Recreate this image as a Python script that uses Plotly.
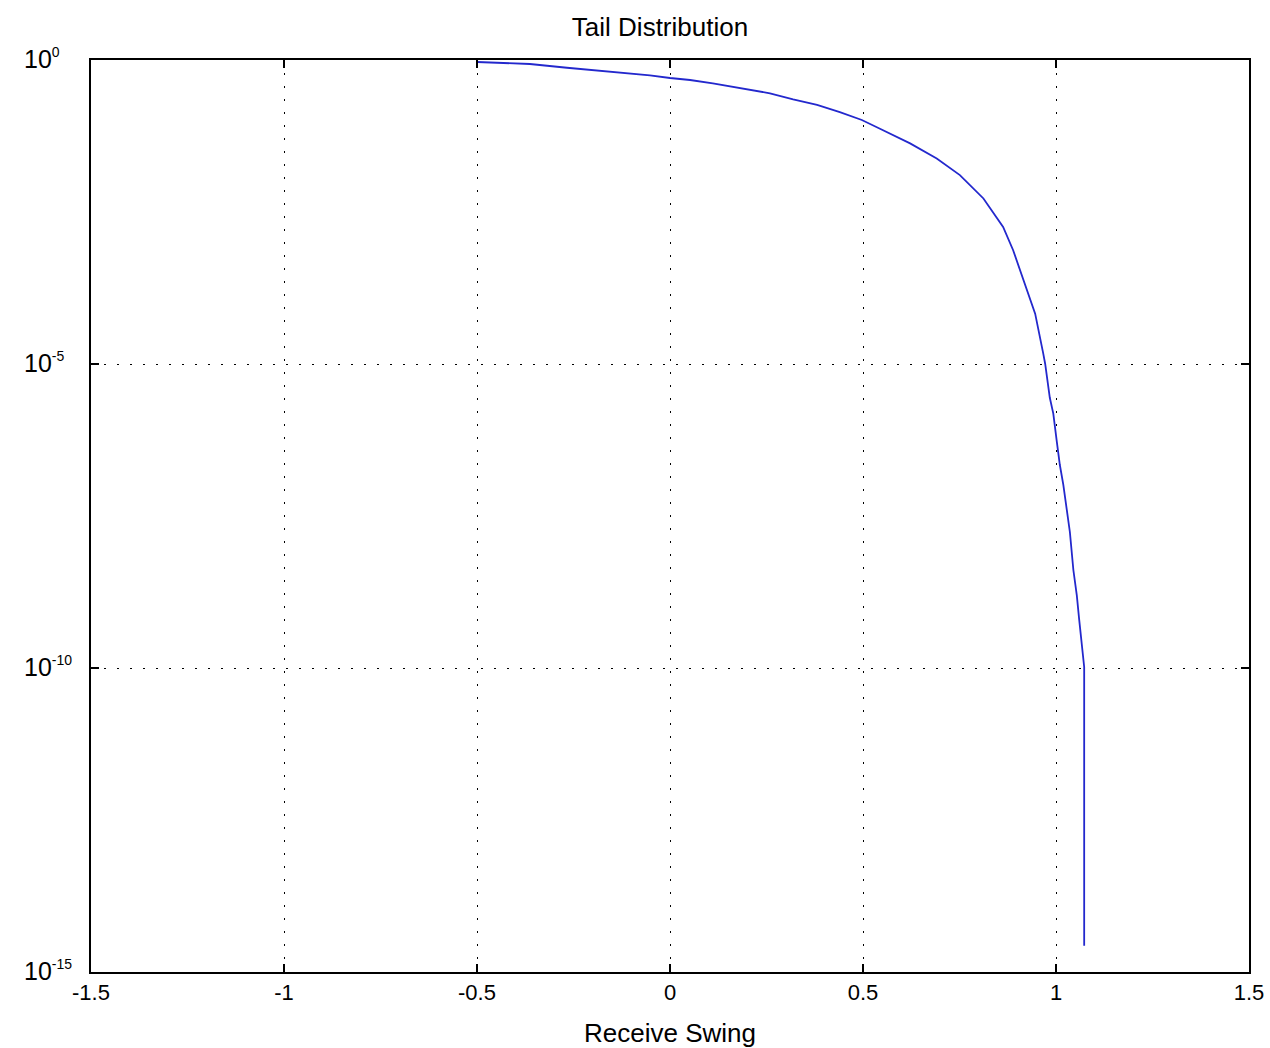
import plotly.graph_objects as go

# Receive swing (x) and tail probability (y)
swing = [-0.5, -0.363, -0.267, -0.181, -0.111, -0.052, 0.0, 0.052, 0.111, 0.181,
         0.259, 0.319, 0.381, 0.440, 0.497, 0.544, 0.622, 0.691, 0.751, 0.812,
         0.863, 0.889, 0.920, 0.946, 0.967, 0.972, 0.984, 0.993, 1.002, 1.010,
         1.019, 1.028, 1.036, 1.045, 1.054, 1.060, 1.067, 1.073, 1.073]
tail = [0.927, 0.859, 0.746, 0.667, 0.604, 0.560, 0.506, 0.469, 0.413, 0.342,
        0.283, 0.225, 0.182, 0.139, 0.103, 0.0741, 0.0425, 0.0240, 0.0128, 5.28e-3,
        1.80e-3, 7.43e-4, 2.10e-4, 6.73e-5, 1.48e-5, 1.0e-5, 2.78e-6, 1.53e-6, 5.35e-7, 2.18e-7,
        1.03e-7, 4.19e-8, 1.71e-8, 4.09e-9, 1.55e-9, 6.30e-10, 2.38e-10, 1.04e-10, 2.69e-15]

x_ticks = [-1.5, -1, -0.5, 0, 0.5, 1, 1.5]
x_ticktext = ["-1.5", "-1", "-0.5", "0", "0.5", "1", "1.5"]
y_tick_exponents = [-15, -10, -5, 0]
y_ticks = [10.0 ** e for e in y_tick_exponents]

FONT = "Liberation Sans, Arial, sans-serif"
W, H = 1270, 1048
L, R, T, B = 91, 21, 60, 76

fig = go.Figure()
fig.add_trace(go.Scatter(x=swing, y=tail, mode="lines",
                         line=dict(color="rgb(35,40,205)", width=1.8),
                         showlegend=False, hoverinfo="x+y"))

axis_common = dict(
    showline=True, linecolor="black", linewidth=2, mirror="ticks",
    ticks="inside", ticklen=8, tickwidth=1.5, tickcolor="black",
    showgrid=True, gridcolor="black", gridwidth=1.3, griddash="2px,11px",
    zeroline=False,
)

fig.update_xaxes(range=[-1.5, 1.5], tickvals=x_ticks, ticktext=x_ticktext,
                 tickfont=dict(family=FONT, size=22, color="black"),
                 title=dict(text="Receive Swing", font=dict(family=FONT, size=26, color="black"),
                            standoff=19),
                 ticklabelstandoff=0,
                 **axis_common)
fig.update_yaxes(type="log", range=[-15, 0], tickvals=y_ticks, showticklabels=False,
                 **axis_common)

# y tick labels, left-aligned as in the reference (MATLAB style 10^n)
plot_w = W - L - R
for e in y_tick_exponents:
    fig.add_annotation(
        xref="paper", x=(22 - L) / plot_w, xanchor="left",
        yref="y", y=e, yanchor="middle", yshift=2,
        text=f"10<sup><span style='font-size:14px'>{e}</span></sup>",
        showarrow=False, font=dict(family=FONT, size=25, color="black"),
    )

fig.update_layout(
    width=W, height=H,
    margin=dict(l=L, r=R, t=T, b=B, autoexpand=False),
    paper_bgcolor="white", plot_bgcolor="white",
    title=dict(text="Tail Distribution", x=660 / W, xanchor="center",
               y=1 - 27 / H, yanchor="middle", yref="container",
               font=dict(family=FONT, size=26, color="black")),
    font=dict(family=FONT, color="black"),
)

fig.write_html("out.html", config={"displayModeBar": False},
               post_script="document.body.style.margin='0';document.body.style.overflow='hidden';")
